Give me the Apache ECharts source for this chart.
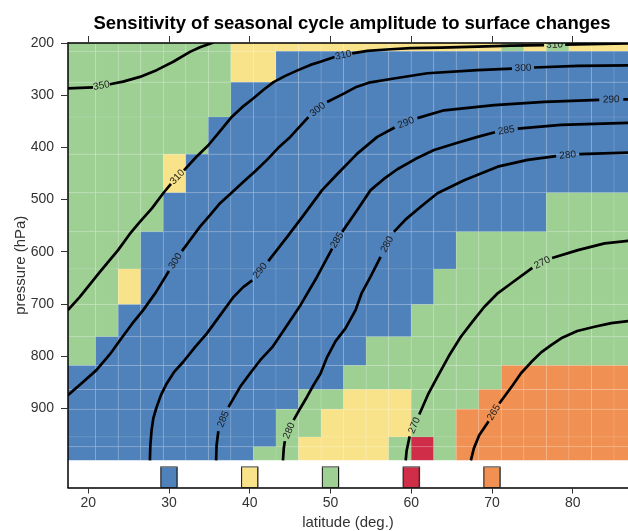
<!DOCTYPE html>
<html>
<head>
<meta charset="utf-8">
<script src="https://cdn.jsdelivr.net/npm/echarts@6/dist/echarts.min.js"></script>
<style>html,body{margin:0;padding:0;background:#fff}#c{width:628px;height:531px}</style>
</head>
<body>
<div id="c"></div>
<script>
// ---- data ----
const latEdges = [17.5, 20.93, 23.72, 26.51, 29.30, 32.09, 34.88, 37.67, 40.46, 43.26, 46.05, 48.84, 51.63, 54.42, 57.21, 60.00, 62.79, 65.58, 68.37, 71.16, 73.95, 76.74, 79.53, 82.32, 85.12, 87.91];
const pEdges = [200, 216, 275, 342, 413, 487, 562, 633, 701, 763, 818, 864, 902, 955, 974, 1000];
// B = blue, Y = yellow, G = green, R = red, O = orange (one row per pressure band, top to bottom)
const cellRows = [
  "GGGGGGGYYYYYYYYYYYYGYGYYY",
  "GGGGGGGYYBBBBBBBBBBBBBBBB",
  "GGGGGGGBBBBBBBBBBBBBBBBBB",
  "GGGGGGBBBBBBBBBBBBBBBBBBB",
  "GGGGYBBBBBBBBBBBBBBBBBBBB",
  "GGGGBBBBBBBBBBBBBBBBBGGGG",
  "GGGBBBBBBBBBBBBBBGGGGGGGG",
  "GGYBBBBBBBBBBBBBGGGGGGGGG",
  "GGBBBBBBBBBBBBBGGGGGGGGGG",
  "GBBBBBBBBBBBBGGGGGGGGGGGG",
  "BBBBBBBBBBBBGGGGGGGOOOOOO",
  "BBBBBBBBBBGGYYYGGGOOOOOOO",
  "BBBBBBBBBGGYYYYGGOOOOOOOO",
  "BBBBBBBBBGYYYYGRGOOOOOOOO",
  "BBBBBBBBGGYYYYGRGOOOOOOOO"
];
const legendLats = [30, 40, 50, 60, 70];
const legendClasses = ["B", "Y", "G", "R", "O"];
const legendHalfWidth = 1;
const legendTopP = 1012;

const xTicks = [20, 30, 40, 50, 60, 70, 80];
const yTicks = [200, 300, 400, 500, 600, 700, 800, 900];

// contour lines: [lat, pressure]; null marks a label gap
const contourLevels = ["350", "310", "300", "290", "285", "280", "270", "265"];
const c350 = [[17.49,287],[20.6,285],null,[22.67,279],[24.32,274],[26.4,265],[28.47,252],[30.53,236],[32.6,217],[33.85,208],[35.5,199]];
const c310 = [[17.49,712],[18.94,687],[21.43,639],[23.7,597],[25.15,566],[26.4,543],[27.89,517],[29.29,488],[30.25,470],null,[31.86,444],[33.35,419],[34.88,396],[36.33,369],[37.7,343],[39.07,323],[40.47,306],[41.68,290],[42.95,275],[44.41,263],[45.99,252],[47.52,242],[48.76,236],[50.5,227],null,[52.69,220],[54.56,215],[57.45,212],[59.93,210],[63.66,209],[68.22,207],[72.36,205],[76.46,204],null,[79.07,203],[83.54,201.5],[87,200.6]];
const c300 = [[17.49,875],[19.19,852],[21.02,827],[22.67,797],[24.12,766],[25.4,739],[26.81,712],[28.38,678],[29.29,655],[30.0,637],null,[31.61,599],[32.6,578],[33.85,552],[35.09,530],[36.33,507],[37.83,486],[39.23,466],[40.68,446],[42.14,424],[43.54,401],[45.03,380],[46.27,359],[47.27,342],null,[49.59,313],[51.65,297],[53.1,285],[54.76,276],[57.86,268],[62.01,258],[68.22,252],[72.48,249],null,[75.22,247],[80.65,244],[87,243]];
const c290 = [[27.64,1000],[27.7,971],[27.85,942],[28.07,919],[28.47,898],[29.01,875],[29.71,853],[30.62,831],[31.78,811],[33.23,783],[34.68,757],[36.33,722],[37.99,687],[39.19,668],[40.31,655],null,[42.3,618],[44.62,572],[46.68,530],[48.97,482],[50.74,453],[53.32,412],[55.8,380],[57.95,362],null,[60.77,344],[64.07,329],[70.29,319],[76.5,313],[83.29,309],null,[86.27,308],[87,308]];
const c285 = [[35.84,1000],[35.9,971],[36.12,944],null,[37.37,898],[38.82,859],[40.06,833],[41.3,808],[42.8,783],[44.2,751],[46.27,703],[48.35,648],[50.21,594],null,[51.45,562],[53.32,520],[54.97,482],[56.58,461],[58.28,442],[60.56,422],[62.83,405],[65.53,392],[68.22,380],[70.37,371],null,[73.19,364],[78.57,357],[87,353]];
const c280 = [[44.12,1000],[44.22,977],[44.35,963],null,[45.44,923],[46.27,900],[47.11,878],[47.89,856],[48.76,834],[49.59,802],[50.62,772],[51.86,747],[53.11,712],[53.85,680],[54.97,648],[56.21,610],null,[57.86,562],[59.32,538],[61.18,514],[63.25,488],[66.56,463],[70.71,437],[74.43,424],[77.95,417],null,[80.81,413],[87,410]];
const c270 = [[59.32,1000],[59.44,981],[59.81,954],null,[61.0,912],[62.17,871],[63.25,840],[64.66,800],[66.15,763],[67.64,733],[69.04,706],[70.62,681],[72.36,661],[75.0,631],null,[77.45,612],[80.65,597],[83.95,584],[87,579]];
const c265 = [[67.39,1000],[67.76,977],[68.42,952],[69.59,925],null,[70.91,891],[72.57,856],[73.6,833],[74.84,812],[76.09,793],[77.33,779],[78.57,766],[80.56,752],[82.71,744],[84.78,737],[87,733]];
const contourLines = [c350, c310, c300, c290, c285, c280, c270, c265];

// ---- styles ----
const classColors = { B: "#4f81bb", Y: "#f9e38a", G: "#9ed094", R: "#d02e48", O: "#f09052" };
const FONT = '"Liberation Sans", Arial, Helvetica, sans-serif';

// ---- build series data ----
const cellData = [];
cellRows.forEach((row, r) => {
  for (let c = 0; c < row.length; c++) {
    cellData.push([latEdges[c], latEdges[c + 1], pEdges[r], pEdges[r + 1], row[c]]);
  }
});
const legendData = legendLats.map((lat, i) => [lat - legendHalfWidth, lat + legendHalfWidth, legendTopP, 1052, legendClasses[i]]);

function renderCell(params, api) {
  const d = cellData[params.dataIndex];
  const a = api.coord([d[0], d[2]]);
  const b = api.coord([d[1], d[3]]);
  return {
    type: 'rect',
    shape: { x: a[0], y: a[1], width: b[0] - a[0], height: b[1] - a[1] },
    style: { fill: classColors[d[4]], stroke: 'rgba(255,255,255,0.10)', lineWidth: 1 }
  };
}
function renderLegend(params, api) {
  const d = legendData[params.dataIndex];
  const a = api.coord([d[0], d[2]]);
  const b = api.coord([d[1], d[3]]);
  return {
    type: 'group',
    children: [
      { type: 'rect', shape: { x: a[0] + 1, y: a[1], width: b[0] - a[0], height: b[1] - a[1] }, style: { fill: '#999', opacity: 0.8 } },
      { type: 'rect', shape: { x: a[0], y: a[1], width: b[0] - a[0], height: b[1] - a[1] }, style: { fill: classColors[d[4]], stroke: '#111', lineWidth: 1 } },
      { type: 'line', shape: { x1: a[0], y1: a[1], x2: b[0], y2: a[1] }, style: { stroke: '#888', lineWidth: 1.5 } }
    ]
  };
}
function renderContour(params, api) {
  const pts = contourLines[params.dataIndex];
  const level = contourLevels[params.dataIndex];
  const children = [];
  let seg = [];
  let gapStart = null;
  const pushSeg = () => {
    if (seg.length > 1) children.push({
      type: 'polyline', shape: { points: seg.slice() },
      style: { stroke: '#000', lineWidth: 2.7, fill: null, lineJoin: 'round', lineCap: 'butt' }
    });
  };
  for (const p of pts) {
    if (p === null) { pushSeg(); gapStart = seg[seg.length - 1]; seg = []; continue; }
    const c = api.coord(p);
    if (gapStart) {
      let dx = c[0] - gapStart[0], dy = c[1] - gapStart[1];
      if (dx < 0) { dx = -dx; dy = -dy; }
      children.push({
        type: 'text', x: (c[0] + gapStart[0]) / 2, y: (c[1] + gapStart[1]) / 2,
        rotation: Math.atan2(-dy, dx),
        style: { text: level, fill: '#1a1a1a', font: '10px ' + FONT, align: 'center', verticalAlign: 'middle', textAlign: 'center', textVerticalAlign: 'middle' }
      });
      gapStart = null;
    }
    seg.push(c);
  }
  pushSeg();
  return { type: 'group', children };
}

const chart = echarts.init(document.getElementById('c'), null, { renderer: 'canvas' });
const axisText = { color: '#333', fontSize: 14, fontFamily: FONT };
chart.setOption({
  animation: false,
  backgroundColor: '#fff',
  title: {
    text: 'Sensitivity of seasonal cycle amplitude to surface changes',
    left: 347, top: 9, textAlign: 'center',
    textStyle: { fontSize: 18.5, fontWeight: 'bold', color: '#000', fontFamily: FONT }
  },
  grid: { left: 68, right: 0, top: 43, bottom: 43.5, containLabel: false, outerBoundsMode: 'none' },
  xAxis: [
    {
      type: 'value', position: 'bottom', min: 17.5, max: 86.85, z: 10,
      axisLine: { show: true, onZero: false, lineStyle: { color: '#000', width: 1.5 } },
      axisTick: { show: true, customValues: xTicks, length: 6, lineStyle: { color: '#333' } },
      axisLabel: { customValues: xTicks, margin: 9, ...axisText },
      splitLine: { show: false },
      name: 'latitude (deg.)', nameLocation: 'middle', nameGap: 28, nameMoveOverlap: false,
      nameTextStyle: { color: '#333', fontSize: 15, fontFamily: FONT }
    },
    {
      type: 'value', position: 'top', min: 17.5, max: 86.85, z: 10,
      axisLine: { show: true, onZero: false, lineStyle: { color: '#000', width: 1.5 } },
      axisTick: { show: true, customValues: xTicks, length: 7, lineStyle: { color: '#333' } },
      axisLabel: { show: false },
      splitLine: { show: false }
    }
  ],
  yAxis: {
    type: 'value', inverse: true, min: 200, max: 1052, z: 10,
    axisLine: { show: true, onZero: false, lineStyle: { color: '#000', width: 1.5 } },
    axisTick: { show: true, customValues: yTicks, length: 7, lineStyle: { color: '#333' } },
    axisLabel: { customValues: yTicks, margin: 14, ...axisText },
    splitLine: { show: false },
    name: 'pressure (hPa)', nameLocation: 'middle', nameGap: 40, nameRotate: 90, nameMoveOverlap: false,
    nameTextStyle: { color: '#333', fontSize: 15, fontFamily: FONT }
  },
  series: [
    { type: 'custom', name: 'cells', xAxisIndex: 0, yAxisIndex: 0, clip: true, z: 1, silent: true,
      renderItem: renderCell, data: cellData.map((d, i) => [d[0], d[2], i]), encode: { x: 0, y: 1 } },
    { type: 'custom', name: 'key', xAxisIndex: 0, yAxisIndex: 0, clip: true, z: 2, silent: true,
      renderItem: renderLegend, data: legendData.map((d, i) => [d[0], d[2], i]), encode: { x: 0, y: 1 } },
    { type: 'custom', name: 'contours', xAxisIndex: 0, yAxisIndex: 0, clip: true, z: 3, silent: true,
      renderItem: renderContour, data: contourLines.map((c, i) => [c[0][0], c[0][1], i]), encode: { x: 0, y: 1 } }
  ]
});
</script>
</body>
</html>
